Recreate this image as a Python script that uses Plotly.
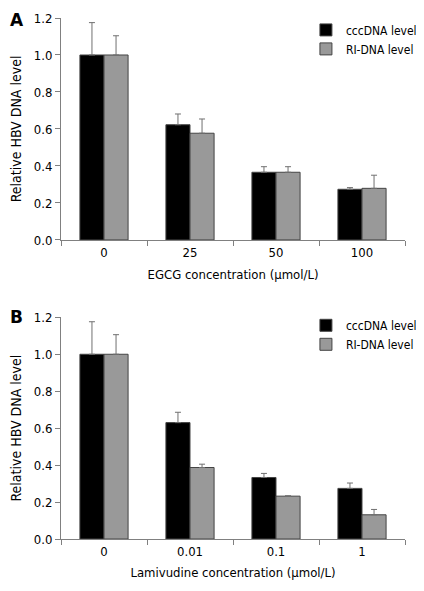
import plotly.graph_objects as go

# ---- data ----
egcg_cats = ["0", "25", "50", "100"]
lam_cats = ["0", "0.01", "0.1", "1"]

a_ccc = [1.0, 0.623, 0.366, 0.274]
a_ccc_err = [0.175, 0.058, 0.030, 0.009]
a_ri = [1.0, 0.577, 0.366, 0.279]
a_ri_err = [0.104, 0.077, 0.030, 0.071]

b_ccc = [1.0, 0.630, 0.333, 0.274]
b_ccc_err = [0.176, 0.056, 0.022, 0.029]
b_ri = [1.0, 0.387, 0.232, 0.131]
b_ri_err = [0.106, 0.018, 0.002, 0.029]

series_names = ["cccDNA level", "RI-DNA level"]
y_ticks = [0.0, 0.2, 0.4, 0.6, 0.8, 1.0, 1.2]

FONT = "DejaVu Sans Condensed, Liberation Sans, Arial, sans-serif"
BLACK = "#000000"
GREY = "#999999"
AXIS = "#808080"
ERR = "#707070"


def bar(x, y, err, name, color, xa, ya, legend):
    return go.Bar(
        x=x, y=y, name=name, xaxis=xa, yaxis=ya, legend=legend,
        marker=dict(color=color, line=dict(color="#444444", width=1)),
        error_y=dict(type="data", array=err, arrayminus=[0] * len(err),
                     symmetric=False, color=ERR, thickness=1, width=3),
    )


fig = go.Figure()
fig.add_trace(bar(egcg_cats, a_ccc, a_ccc_err, series_names[0], BLACK, "x", "y", "legend"))
fig.add_trace(bar(egcg_cats, a_ri, a_ri_err, series_names[1], GREY, "x", "y", "legend"))
fig.add_trace(bar(lam_cats, b_ccc, b_ccc_err, series_names[0], BLACK, "x2", "y2", "legend2"))
fig.add_trace(bar(lam_cats, b_ri, b_ri_err, series_names[1], GREY, "x2", "y2", "legend2"))

xcommon = dict(type="category", tickson="boundaries", ticks="outside", ticklen=5,
               tickcolor=AXIS, showline=True, linecolor=AXIS, linewidth=1,
               showgrid=False, zeroline=False, automargin=False,
               tickfont=dict(size=13, color="#000"))
ycommon = dict(range=[0, 1.2], tickvals=y_ticks, tickformat=".1f", ticks="outside",
               ticklen=5, tickcolor=AXIS, showline=True, linecolor=AXIS, linewidth=1,
               showgrid=False, zeroline=False, automargin=False,
               tickfont=dict(size=13, color="#000"),
               title=dict(text="Relative HBV DNA level", font=dict(size=14), standoff=10))

legcommon = dict(xanchor="left", yanchor="top", bgcolor="rgba(0,0,0,0)",
                 font=dict(size=12, color="#000"), itemwidth=30)

# page body has an 8px default margin, so the figure is sized to fit inside it
fig.update_layout(
    width=408, height=575,
    margin=dict(l=53, r=11, t=10, b=44, autoexpand=False),
    paper_bgcolor="white", plot_bgcolor="white",
    font=dict(family=FONT, size=13, color="#000"),
    barmode="group", bargap=0.44, bargroupgap=0,
    xaxis=dict(domain=[0, 1], anchor="y",
               title=dict(text="EGCG concentration (\u03bcmol/L)", font=dict(size=13), standoff=11),
               **xcommon),
    yaxis=dict(domain=[0.574, 1], anchor="x", **ycommon),
    xaxis2=dict(domain=[0, 1], anchor="y2",
                title=dict(text="Lamivudine concentration (\u03bcmol/L)", font=dict(size=13), standoff=10),
                **xcommon),
    yaxis2=dict(domain=[0, 0.4255], anchor="x2", **ycommon),
    legend=dict(x=0.712, y=1.005, **legcommon),
    legend2=dict(x=0.712, y=0.438, **legcommon),
    annotations=[
        dict(text="<b>A</b>", xref="paper", yref="paper", x=-0.1541, y=0.9967,
             xanchor="left", yanchor="middle", showarrow=False,
             font=dict(size=17, family="DejaVu Sans", color="#000")),
        dict(text="<b>B</b>", xref="paper", yref="paper", x=-0.1541, y=0.4267,
             xanchor="left", yanchor="middle", showarrow=False,
             font=dict(size=17, family="DejaVu Sans", color="#000")),
    ],
)

fig.write_html("out.html")
